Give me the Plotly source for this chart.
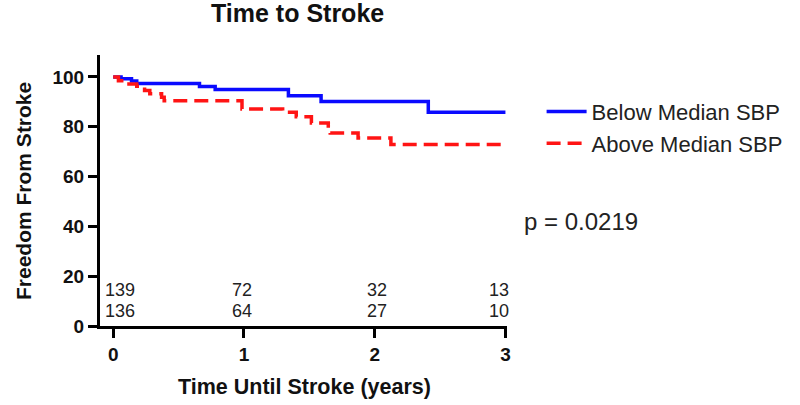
import plotly.graph_objects as go

# Kaplan-Meier step data
below_t = [0, 0.06, 0.14, 0.18, 0.66, 0.78, 1.34, 1.59, 2.41, 3.0]
below_s = [100, 99.3, 98.4, 97.4, 96.2, 94.9, 92.4, 90.1, 85.8, 85.8]

above_t = [0, 0.04, 0.1, 0.18, 0.24, 0.28, 0.37, 0.39, 0.985, 1.296, 1.40,
           1.516, 1.645, 1.66, 1.873, 2.124, 3.0]
above_s = [100, 98.5, 97.2, 96.3, 94.5, 93.2, 91.8, 90.4, 87.1, 85.8, 84.0,
           81.5, 79.5, 77.5, 75.5, 72.9, 72.9]

# numbers at risk
risk_t = [0, 1, 2, 3]
risk_below = [139, 72, 32, 13]
risk_above = [136, 64, 27, 10]
risk_shift = [7, -2, 2, -6]

FONT = "Liberation Sans, Arial, sans-serif"

fig = go.Figure()
fig.add_trace(go.Scatter(x=below_t, y=below_s, mode="lines", line_shape="hv",
                         name="Below Median SBP",
                         line=dict(color="#0a0aff", width=3.5)))
fig.add_trace(go.Scatter(x=above_t, y=above_s, mode="lines", line_shape="hv",
                         name="Above Median SBP",
                         line=dict(color="#ff1414", width=3.5, dash="14px,7px")))

for t, b, a, s in zip(risk_t, risk_below, risk_above, risk_shift):
    fig.add_annotation(x=t, y=14.5, text=str(b), showarrow=False, xshift=s,
                       font=dict(size=18, color="#222"))
    fig.add_annotation(x=t, y=6.0, text=str(a), showarrow=False, xshift=s,
                       font=dict(size=18, color="#222"))

fig.add_annotation(xref="paper", yref="paper", x=0.485, y=1.155,
                   xanchor="center", yanchor="middle",
                   text="<b>Time to Stroke</b>", showarrow=False,
                   font=dict(size=25, color="#111"))
fig.add_annotation(xref="paper", yref="paper", x=0.502, y=-0.225,
                   xanchor="center", yanchor="middle",
                   text="<b>Time Until Stroke (years)</b>", showarrow=False,
                   font=dict(size=21.5, color="#111"))
fig.add_annotation(xref="paper", yref="paper", x=-0.188, y=0.5, textangle=-90,
                   xanchor="center", yanchor="middle",
                   text="<b>Freedom From Stroke</b>", showarrow=False,
                   font=dict(size=21, color="#111"))
fig.add_annotation(xref="paper", yref="paper", x=1.036, y=0.384,
                   xanchor="left", yanchor="middle",
                   text="p = 0.0219", showarrow=False,
                   font=dict(size=24, color="#222"))

fig.update_layout(
    width=800, height=405,
    margin=dict(l=100, r=290, t=55, b=79),
    plot_bgcolor="white", paper_bgcolor="white",
    font=dict(family=FONT, color="#111"),
    showlegend=True,
    legend=dict(x=1.085, y=0.868, xanchor="left", yanchor="top",
                font=dict(size=22, color="#222"), itemwidth=40,
                bgcolor="rgba(0,0,0,0)"),
)
fig.update_xaxes(range=[-0.101, 3.012], tickvals=[0, 1, 2, 3],
                 showgrid=False, zeroline=False,
                 showline=True, linecolor="black", linewidth=3,
                 ticks="outside", ticklen=9, tickwidth=3, tickcolor="black",
                 tickfont=dict(size=19, weight="bold", color="#111"))
fig.update_yaxes(range=[0, 108.8], tickvals=[0, 20, 40, 60, 80, 100],
                 showgrid=False, zeroline=False,
                 showline=True, linecolor="black", linewidth=3,
                 ticks="outside", ticklen=9, tickwidth=3, tickcolor="black",
                 tickfont=dict(size=19, weight="bold", color="#111"))

fig.write_html("out.html", config={"displayModeBar": False},
               post_script="document.body.style.margin='0';")
